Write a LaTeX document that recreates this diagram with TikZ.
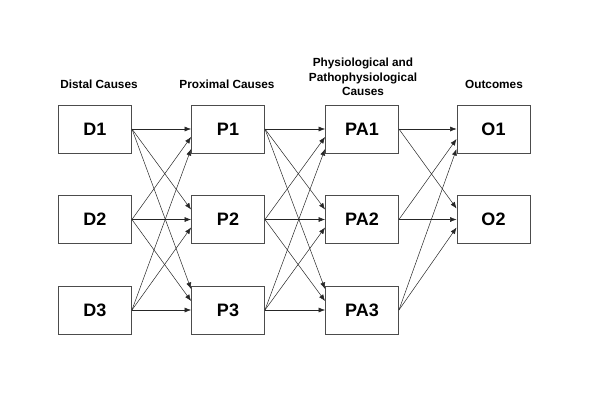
\documentclass[tikz,border=0pt]{standalone}
\usepackage{fontspec}
\setmainfont{Liberation Sans}
\usetikzlibrary{arrows.meta}
\begin{document}
\begin{tikzpicture}[x=1pt,y=-1pt,
  box/.style={draw=black!70,line width=0.9pt,minimum width=73pt,minimum height=48pt,inner sep=0pt,font=\fontsize{18}{20}\selectfont\bfseries},
  hdr/.style={font=\fontsize{11.8}{14.5}\selectfont\bfseries,align=center},
  conn/.style={draw=black!85,line width=0.5pt,-{Latex[length=6.5pt,width=5pt]}}]
\useasboundingbox (0,0) rectangle (600,408);
\node[hdr] (h1) at (99,84) {Distal Causes};
\node[hdr] (h2) at (227,84) {Proximal Causes};
\node[hdr] (h3) at (363,77) {Physiological and\\Pathophysiological\\Causes};
\node[hdr] (h4) at (494,84) {Outcomes};
\node[box] (D1) at (95,129) {D1};
\node[box] (D2) at (95,219.5) {D2};
\node[box] (D3) at (95,310) {D3};
\node[box] (P1) at (228,129) {P1};
\node[box] (P2) at (228,219.5) {P2};
\node[box] (P3) at (228,310) {P3};
\node[box] (PA1) at (362,129) {PA1};
\node[box] (PA2) at (362,219.5) {PA2};
\node[box] (PA3) at (362,310) {PA3};
\node[box] (O1) at (493.5,129) {O1};
\node[box] (O2) at (493.5,219.5) {O2};
\foreach \s/\t/\o in {D1/P1/0,D2/P1/-8,D3/P1/-20,D1/P2/10,D2/P2/0,D3/P2/-8,D1/P3/21,D2/P3/9,D3/P3/0,
  P1/PA1/0,P2/PA1/-8,P3/PA1/-20,P1/PA2/10,P2/PA2/0,P3/PA2/-8,P1/PA3/21,P2/PA3/9,P3/PA3/0,
  PA1/O1/0,PA2/O1/-10,PA3/O1/-20,PA1/O2/11,PA2/O2/0,PA3/O2/-8}
  \draw[conn] (\s.east) -- ([yshift=\o pt]\t.west);
\end{tikzpicture}
\end{document}
